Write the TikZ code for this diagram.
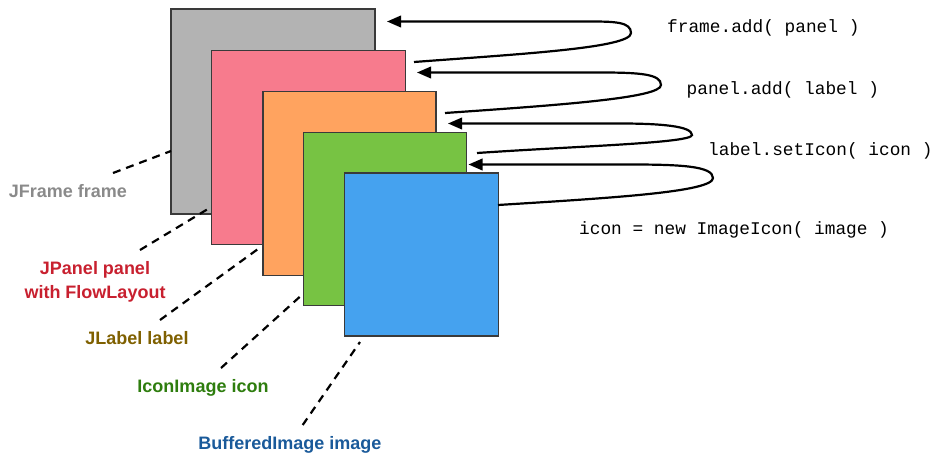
\documentclass[tikz,border=0pt]{standalone}
\usepackage{fontspec}
\setmainfont{Liberation Sans}
\setmonofont{Liberation Mono}
\usetikzlibrary{arrows.meta}

\definecolor{edgegray}{HTML}{3A3A3A}
\definecolor{framefill}{HTML}{B3B3B3}
\definecolor{panelfill}{HTML}{F77B8D}
\definecolor{labelfill}{HTML}{FFA35F}
\definecolor{iconfill}{HTML}{77C343}
\definecolor{imagefill}{HTML}{45A2EF}
\definecolor{frametext}{HTML}{8A8A8A}
\definecolor{paneltext}{HTML}{C8202F}
\definecolor{labeltext}{HTML}{7F6000}
\definecolor{icontext}{HTML}{2E7D0E}
\definecolor{imagetext}{HTML}{1A5A9A}

\tikzset{
  layer/.style={draw=edgegray, line width=1.2pt, anchor=north west,
    inner sep=0pt, outer sep=0pt},
  who/.style={font=\fontsize{18}{24}\selectfont\bfseries, align=center, inner sep=0pt},
  oneline/.style={text height=13pt, text depth=0pt},
  code/.style={font=\fontsize{17.8}{20}\selectfont\ttfamily, anchor=west, inner sep=0pt},
  call/.style={line width=2.2pt, -{Triangle[length=14pt,width=11.5pt]}},
  pointer/.style={line width=2.2pt, dash pattern=on 8pt off 6pt},
}

\begin{document}
\begin{tikzpicture}[x=1pt,y=-1pt]
  \useasboundingbox (0,0) rectangle (937,453);

  % stacked containers, back to front
  \node[layer, fill=framefill, minimum width=204pt, minimum height=205pt] (frame) at (171,9) {};
  \node[layer, fill=panelfill, minimum width=194pt, minimum height=194pt] (panel) at (211.7,50.7) {};
  \node[layer, fill=labelfill, minimum width=173pt, minimum height=184pt] (label) at (263,91.3) {};
  \node[layer, fill=iconfill,  minimum width=163pt, minimum height=173.5pt] (icon) at (303.7,132.3) {};
  \node[layer, fill=imagefill, minimum width=154pt, minimum height=163pt] (image) at (344.3,173) {};

  % code that links each layer to its container
  \node[code] (c1) at (667,28) {frame.add( panel )};
  \node[code] (c2) at (686.5,90) {panel.add( label )};
  \node[code] (c3) at (708,150.5) {label.setIcon( icon )};
  \node[code] (c4) at (579,230) {icon = new ImageIcon( image )};

  % loop arrows: start, turning point, tip
  \coordinate (s1) at (414,62);   \coordinate (t1) at (387,21.5);
  \coordinate (s2) at (445,113);  \coordinate (t2) at (417,72.5);
  \coordinate (s3) at (477,153);  \coordinate (t3) at (448,123.5);
  \coordinate (s4) at (498,205);  \coordinate (t4) at (468.5,164.5);

  \draw[call] (s1) .. controls (520,54) and (631,48) .. (631,33)
              .. controls (631,22) and (615,21.5) .. (590,21.5) -- (t1);
  \draw[call] (s2) .. controls (560,105) and (661,98) .. (661,85)
              .. controls (661,74) and (640,72.5) .. (600,72.5) -- (t2);
  \draw[call] (s3) .. controls (580,146) and (692,143) .. (692,135)
              .. controls (692,126) and (660,123.5) .. (620,123.5) -- (t3);
  \draw[call] (s4) .. controls (610,198) and (713,192) .. (713,178)
              .. controls (713,166) and (680,164.5) .. (630,164.5) -- (t4);

  % class captions
  \node[who, oneline, text=frametext] (nframe) at (68,191) {JFrame frame};
  \node[who, text=paneltext] (npanel) at (95,282) {JPanel panel\\with FlowLayout};
  \node[who, oneline, text=labeltext] (nlabel) at (137,338) {JLabel label};
  \node[who, oneline, text=icontext] (nicon) at (203,386) {IconImage icon};
  \node[who, oneline, text=imagetext] (nimage) at (290,443) {BufferedImage image};

  % dashed pointers from captions to layers
  \coordinate (pf0) at (113,173);   \coordinate (pf1) at (171,151);
  \coordinate (pp0) at (140,250);   \coordinate (pp1) at (211.7,206.7);
  \coordinate (pl0) at (160,320);   \coordinate (pl1) at (258,249);
  \coordinate (pi0) at (221,368);   \coordinate (pi1) at (304,293);
  \coordinate (pb0) at (302.7,425); \coordinate (pb1) at (360,342);

  \draw[pointer] (pf0) -- (pf1);
  \draw[pointer] (pp0) -- (pp1);
  \draw[pointer] (pl0) -- (pl1);
  \draw[pointer] (pi0) -- (pi1);
  \draw[pointer] (pb0) -- (pb1);
\end{tikzpicture}
\end{document}
